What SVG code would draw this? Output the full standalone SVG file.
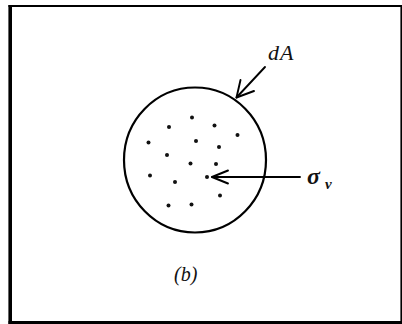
<svg xmlns="http://www.w3.org/2000/svg" width="402" height="324" viewBox="0 0 402 324">
<style>
.ln{fill:none;stroke:#000;stroke-linecap:round;stroke-linejoin:round}
.dot{fill:#111}
.t{font-family:"Liberation Serif","DejaVu Serif",serif;font-style:italic;fill:#111}
</style>
<rect width="402" height="324" fill="#fff"/>
<g id="frame">
<line x1="10.2" y1="5" x2="10.2" y2="324" stroke="#000" stroke-width="3.6"/>
<line x1="8.5" y1="6" x2="402" y2="6" stroke="#000" stroke-width="2.2"/>
<line x1="8.5" y1="322.5" x2="402" y2="322.5" stroke="#000" stroke-width="3"/>
<line x1="401.2" y1="5" x2="401.2" y2="324" stroke="#000" stroke-width="1.6"/>
</g>
<g id="area">
<ellipse cx="195" cy="160" rx="71" ry="72.5" class="ln" stroke-width="2.2"/>
<g id="dots" class="dot">
<circle cx="192" cy="117.5" r="2"/>
<circle cx="169" cy="127" r="2"/>
<circle cx="214.5" cy="125.5" r="2"/>
<circle cx="237.5" cy="135" r="2"/>
<circle cx="148.5" cy="142.5" r="2"/>
<circle cx="196" cy="141" r="2"/>
<circle cx="219" cy="147" r="2"/>
<circle cx="167" cy="155" r="2"/>
<circle cx="190.5" cy="163.5" r="2"/>
<circle cx="216" cy="164" r="2"/>
<circle cx="150" cy="175.5" r="2"/>
<circle cx="175" cy="182" r="2"/>
<circle cx="207" cy="177" r="2"/>
<circle cx="220" cy="195.5" r="2"/>
<circle cx="168.5" cy="205.5" r="2"/>
<circle cx="191.5" cy="204.5" r="2"/>
</g>
</g>
<g id="connectors">
<line x1="265" y1="67" x2="236.5" y2="97.5" class="ln" stroke-width="1.9"/>
<path d="M240.5 80 L236.5 97.5 L254 91" class="ln" stroke-width="1.9"/>
<line x1="212" y1="177" x2="300" y2="177" class="ln" stroke-width="1.9"/>
<path d="M228 170.5 L212 177 L228 183.5" class="ln" stroke-width="1.9"/>
</g>
<g id="labels">
<text x="268" y="60" class="t" font-size="22" letter-spacing="1">dA</text>
<text x="307" y="184" class="t" font-size="24" font-weight="bold">σ</text>
<text x="325" y="189" class="t" font-size="15" font-weight="bold">ν</text>
<text x="174" y="281" class="t" font-size="20">(b)</text>
</g>
</svg>
